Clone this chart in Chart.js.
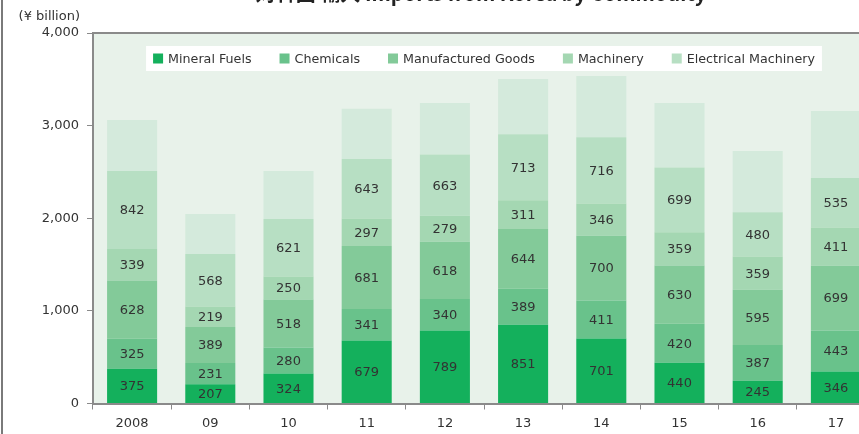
<!DOCTYPE html>
<html>
<head>
<meta charset="utf-8">
<title>Imports from Korea by Commodity</title>
<script src="https://cdn.jsdelivr.net/npm/chart.js@4.4.0/dist/chart.umd.min.js"></script>
<style>
  html, body { margin: 0; padding: 0; background: #fff; overflow: hidden; }
  #wrap { position: relative; width: 859px; height: 434px; overflow: hidden; }
  #chart { position: absolute; left: 0; top: 0; }
</style>
</head>
<body>
<div id="wrap"><canvas id="chart" width="900" height="434"></canvas></div>
<script>
// categories (years) and values in ¥ billion
const years = ['2008', '09', '10', '11', '12', '13', '14', '15', '16', '17'];
const mineralFuels = [375, 207, 324, 679, 789, 851, 701, 440, 245, 346];
const chemicals = [325, 231, 280, 341, 340, 389, 411, 420, 387, 443];
const manufacturedGoods = [628, 389, 518, 681, 618, 644, 700, 630, 595, 699];
const machinery = [339, 219, 250, 297, 279, 311, 346, 359, 359, 411];
const electricalMachinery = [842, 568, 621, 643, 663, 713, 716, 699, 480, 535];
const others = [553, 432, 518, 540, 556, 596, 663, 697, 661, 725];
const yTicks = [0, 1000, 2000, 3000, 4000];

const seriesNames = ['Mineral Fuels', 'Chemicals', 'Manufactured Goods', 'Machinery', 'Electrical Machinery'];
const seriesColors = ['#14b05c', '#69c28b', '#83ca99', '#a4d7b2', '#b7dfc3'];
const othersColor = '#d4eadc';
const plotBg = '#e8f2ea';
const axisGray = '#8a8a8a';
const textColor = '#333333';

Chart.defaults.font.family = "'DejaVu Sans', sans-serif";
Chart.defaults.color = textColor;

const labelled = [mineralFuels, chemicals, manufacturedGoods, machinery, electricalMachinery];

const datasets = labelled.map((vals, i) => ({
    label: seriesNames[i],
    data: vals,
    backgroundColor: seriesColors[i],
    borderWidth: 0,
    barPercentage: 0.64,
    categoryPercentage: 1.0
}));
datasets.push({
    label: 'Others',
    data: others,
    backgroundColor: othersColor,
    borderWidth: 0,
    barPercentage: 0.64,
    categoryPercentage: 1.0
});

// plot background, outer frame line, title and unit label
const framePlugin = {
    id: 'frame',
    beforeDraw(chart) {
        const { ctx, chartArea: a } = chart;
        ctx.save();
        ctx.fillStyle = plotBg;
        ctx.fillRect(a.left, a.top, a.right - a.left, a.bottom - a.top);
        ctx.fillStyle = '#7a7a7a';
        ctx.fillRect(1, 0, 2, chart.height);

        ctx.fillStyle = '#222';
        ctx.font = "bold 20px 'Noto Sans CJK JP', 'DejaVu Sans', sans-serif";
        ctx.textAlign = 'center';
        ctx.textBaseline = 'alphabetic';
        ctx.fillText('対韓国 輸入 Imports from Korea by Commodity', 481, 1);

        ctx.fillStyle = textColor;
        ctx.font = "13px 'DejaVu Sans', sans-serif";
        ctx.textAlign = 'right';
        ctx.textBaseline = 'middle';
        ctx.fillText('(¥ billion)', 80, 17);
        ctx.restore();
    },
    afterDatasetsDraw(chart) {
        const { ctx, chartArea: a } = chart;
        ctx.save();
        ctx.strokeStyle = axisGray;
        ctx.lineWidth = 2;
        ctx.beginPath();
        ctx.moveTo(a.left, a.top);
        ctx.lineTo(a.right, a.top);
        ctx.stroke();
        ctx.restore();
    }
};

// value labels in the middle of each labelled segment
const valueLabels = {
    id: 'valueLabels',
    afterDatasetsDraw(chart) {
        const { ctx } = chart;
        ctx.save();
        ctx.fillStyle = textColor;
        ctx.font = "13px 'DejaVu Sans', sans-serif";
        ctx.textAlign = 'center';
        ctx.textBaseline = 'middle';
        labelled.forEach((vals, i) => {
            chart.getDatasetMeta(i).data.forEach((bar, j) => {
                const p = bar.getProps(['x', 'y', 'base'], true);
                ctx.fillText(String(vals[j]), p.x, (p.y + p.base) / 2 + 1);
            });
        });
        ctx.restore();
    }
};

// legend in a white box inside the plot area
const boxLegend = {
    id: 'boxLegend',
    afterDatasetsDraw(chart) {
        const { ctx, chartArea: a } = chart;
        const sq = 10, gapSq = 5, gapItem = 28, padX = 7;
        ctx.save();
        ctx.font = "12.7px 'DejaVu Sans', sans-serif";
        const widths = seriesNames.map(n => ctx.measureText(n).width);
        let total = 0;
        widths.forEach((w, i) => { total += sq + gapSq + w + (i < widths.length - 1 ? gapItem : 0); });
        const cx = (a.left + a.right) / 2;
        const top = 46, h = 25, midY = top + h / 2;
        ctx.fillStyle = '#ffffff';
        ctx.fillRect(cx - total / 2 - padX, top, total + padX * 2, h);
        let x = cx - total / 2;
        ctx.textAlign = 'left';
        ctx.textBaseline = 'middle';
        seriesNames.forEach((n, i) => {
            ctx.fillStyle = seriesColors[i];
            ctx.fillRect(x, midY - sq / 2, sq, sq);
            x += sq + gapSq;
            ctx.fillStyle = textColor;
            ctx.fillText(n, x, midY + 1);
            x += widths[i] + gapItem;
        });
        ctx.restore();
    }
};

new Chart(document.getElementById('chart'), {
    type: 'bar',
    data: { labels: years, datasets: datasets },
    options: {
        responsive: false,
        animation: false,
        layout: { padding: { top: 33, right: 25, left: 0, bottom: 0 } },
        plugins: {
            legend: { display: false },
            title: { display: false },
            tooltip: { enabled: false }
        },
        scales: {
            x: {
                stacked: true,
                grid: { display: true, drawOnChartArea: false, drawTicks: true, tickLength: 6, color: axisGray, offset: true },
                border: { display: true, color: axisGray, width: 2 },
                ticks: { padding: 6, font: { size: 13 }, color: textColor, maxRotation: 0 },
                afterFit(scale) { scale.height = 30.5; }
            },
            y: {
                stacked: true,
                min: 0,
                max: 4000,
                afterBuildTicks(scale) { scale.ticks = yTicks.map(v => ({ value: v })); },
                grid: { display: true, drawOnChartArea: false, drawTicks: true, tickLength: 6, color: axisGray },
                border: { display: true, color: axisGray, width: 2 },
                ticks: {
                    padding: 8,
                    font: { size: 13 },
                    color: textColor,
                    callback: v => v.toLocaleString('en-US')
                },
                afterFit(scale) { scale.width = 93; }
            }
        }
    },
    plugins: [framePlugin, valueLabels, boxLegend]
});
</script>
</body>
</html>
